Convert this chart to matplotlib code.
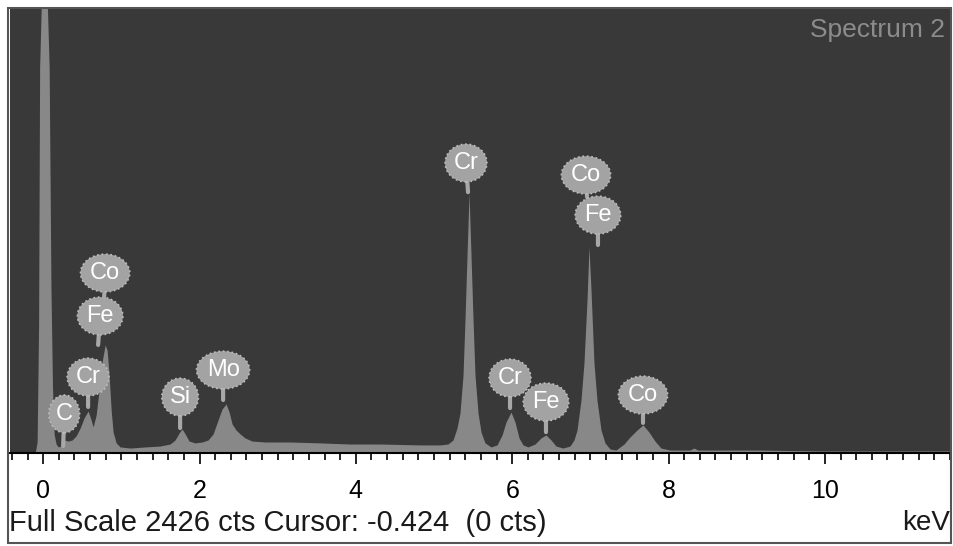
import matplotlib.pyplot as plt
from matplotlib.patches import Rectangle
from matplotlib.ticker import MultipleLocator

plt.rcParams['font.family'] = ['Liberation Sans', 'DejaVu Sans']

# Спектр: энергия (кэВ) и счёт (импульсы)
energy = [-0.42, -0.102, -0.077, -0.058, -0.045, -0.020, 0.050, 0.077, 0.100, 0.120,
          0.141, 0.166, 0.192, 0.230, 0.269, 0.320, 0.371, 0.422, 0.473, 0.524,
          0.575, 0.614, 0.639, 0.678, 0.716, 0.754, 0.793, 0.818, 0.844, 0.870,
          0.895, 0.934, 0.985, 1.113, 1.304, 1.496, 1.624, 1.688, 1.739, 1.777,
          1.816, 1.867, 1.944, 2.033, 2.110, 2.174, 2.238, 2.289, 2.340, 2.379,
          2.417, 2.468, 2.519, 2.583, 2.673, 2.839, 3.159, 3.542, 3.926, 4.309,
          4.821, 5.077, 5.179, 5.243, 5.294, 5.332, 5.371, 5.396, 5.422, 5.448,
          5.473, 5.499, 5.524, 5.563, 5.601, 5.652, 5.729, 5.806, 5.870, 5.921,
          5.985, 6.036, 6.087, 6.138, 6.202, 6.292, 6.368, 6.432, 6.496, 6.560,
          6.650, 6.739, 6.790, 6.829, 6.880, 6.918, 6.957, 6.982, 7.008, 7.046,
          7.084, 7.136, 7.187, 7.251, 7.327, 7.430, 7.506, 7.596, 7.673, 7.749,
          7.826, 7.903, 8.018, 8.274, 8.325, 8.376, 9.169, 9.936, 10.703, 11.6]
counts = [0, 0, 60, 700, 2100, 2500, 2500, 2100, 900, 350,
          100, 49, 33, 38, 71, 65, 71, 93, 136, 191,
          229, 180, 142, 207, 343, 496, 589, 561, 425, 234,
          114, 55, 33, 27, 33, 38, 49, 71, 109, 131,
          104, 65, 55, 60, 71, 104, 180, 240, 267, 223,
          158, 125, 104, 82, 65, 60, 60, 55, 49, 49,
          44, 44, 49, 71, 136, 218, 425, 725, 1079, 1417,
          1079, 725, 425, 218, 114, 55, 33, 44, 98, 169,
          223, 169, 82, 44, 33, 49, 82, 98, 71, 38,
          27, 38, 71, 125, 289, 491, 834, 1123, 888, 491,
          289, 125, 55, 22, 16, 49, 87, 125, 153, 114,
          65, 27, 16, 16, 27, 16, 16, 11, 11, 11]

# Метки элементов: текст, положение метки, конец выноски
lbl_names = ['C', 'Cr', 'Fe', 'Co', 'Si', 'Mo', 'Cr', 'Cr', 'Fe', 'Co', 'Fe', 'Co']
lbl_x = [0.27, 0.575, 0.729, 0.793, 1.752, 2.302, 5.409, 5.972, 6.432, 6.944, 7.097, 7.673]
lbl_y = [213, 414, 747, 981, 305, 452, 1581, 409, 278, 1515, 1297, 316]
stem_x = [0.256, 0.575, 0.703, 0.78, 1.752, 2.302, 5.435, 5.972, 6.432, 6.957, 7.097, 7.673]
stem_y = [38, 251, 589, 845, 136, 289, 1422, 245, 114, 1395, 1134, 164]

full_scale = 2426
x_ticks = [0, 2, 4, 6, 8, 10]

W, H = 954, 546
fig = plt.figure(figsize=(W / 100, H / 100), dpi=100)
fig.patch.set_facecolor('white')
ax = fig.add_axes([10 / W, (H - 453) / H, 940 / W, 445 / H])
ax.set_facecolor('#393939')
ax.fill_between(energy, counts, color='#888888', lw=0)
ax.set_xlim(-0.424, 11.6)
ax.set_ylim(0, full_scale)

for name, lx, ly, sx, sy in zip(lbl_names, lbl_x, lbl_y, stem_x, stem_y):
    ax.annotate(name, xy=(sx, sy), xytext=(lx, ly), ha='center', va='center',
                fontsize=17, color='white',
                bbox=dict(boxstyle='ellipse,pad=0.1', fc='#a3a3a3', ec='#bdbdbd', lw=1.2, ls=':'),
                arrowprops=dict(arrowstyle='-', color='#a8a8a8', lw=3, shrinkA=0, shrinkB=0))

ax.text(0.995, 0.95, 'Spectrum 2', transform=ax.transAxes, ha='right', va='center',
        fontsize=19, color='#8c8c8c')

ax.set_xticks(x_ticks)
ax.xaxis.set_minor_locator(MultipleLocator(0.2))
ax.set_yticks([])
ax.tick_params(axis='x', which='major', direction='out', length=8, width=1.2,
               labelsize=18, pad=11, colors='black')
ax.tick_params(axis='x', which='minor', direction='out', length=5, width=1.2, colors='black')
for s in ['top', 'left', 'right']:
    ax.spines[s].set_visible(False)
ax.spines['bottom'].set_linewidth(1.5)
ax.spines['bottom'].set_color('black')

fig.text(9 / W, 1 - 523 / H, 'Full Scale 2426 cts Cursor: -0.424  (0 cts)',
         ha='left', va='center', fontsize=21, color='#1a1a1a')
fig.text(950 / W, 1 - 523 / H, 'keV', ha='right', va='center', fontsize=20, color='#1a1a1a')

fig.patches.append(Rectangle((8 / W, 3 / H), 943 / W, 535 / H, transform=fig.transFigure,
                             fill=False, ec='#555555', lw=1.5))

fig.savefig('out.png', dpi=100)
